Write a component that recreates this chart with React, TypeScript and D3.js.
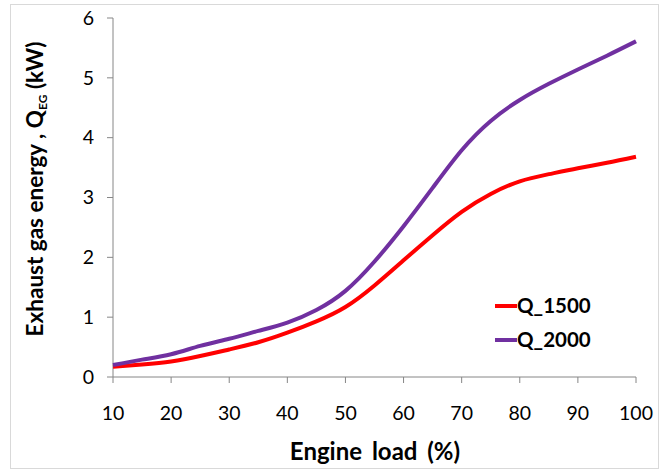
import React from 'react';
import * as d3 from 'd3';

const loads = [10, 15, 20, 25, 30, 35, 40, 45, 50, 55, 60, 65, 70, 75, 80, 85, 90, 95, 100];
const q1500 = [0.17, 0.21, 0.26, 0.35, 0.46, 0.58, 0.74, 0.93, 1.17, 1.53, 1.95, 2.37, 2.76, 3.06, 3.27, 3.39, 3.49, 3.58, 3.68];
const q2000 = [0.2, 0.29, 0.38, 0.52, 0.64, 0.77, 0.91, 1.12, 1.44, 1.93, 2.52, 3.16, 3.79, 4.28, 4.63, 4.9, 5.14, 5.37, 5.61];
const xTicks = [10, 20, 30, 40, 50, 60, 70, 80, 90, 100];
const yTicks = [0, 1, 2, 3, 4, 5, 6];
const seriesNames = ['Q_1500', 'Q_2000'];
const seriesColors = ['#ff0000', '#7030a0'];

const W = 666;
const H = 472;
const font = 'Lato, "Open Sans", sans-serif';

const App = () => {
    const x = d3.scaleLinear().domain([10, 100]).range([113, 636]);
    const y = d3.scaleLinear().domain([0, 6]).range([377, 18]);
    const line = d3.line<number>()
        .x((d, i) => x(loads[i]))
        .y(d => y(d))
        .curve(d3.curveNatural);
    const series = [q1500, q2000];

    return (
        <svg width={W} height={H} style={{ position: 'absolute', left: 0, top: 0, fontFamily: font }}>
            <rect x={0} y={0} width={W} height={H} fill="#fff" />
            <rect x={10.5} y={4.5} width={648} height={464} fill="none" stroke="#d9d9d9" />
            {/* axes */}
            <line x1={x(10)} x2={x(10)} y1={y(6)} y2={y(0)} stroke="#868686" />
            <line x1={x(10)} x2={x(100)} y1={y(0)} y2={y(0)} stroke="#868686" />
            {yTicks.map(t => (
                <g key={'y' + t}>
                    <line x1={x(10) - 6} x2={x(10)} y1={y(t)} y2={y(t)} stroke="#868686" />
                    <text x={94} y={y(t)} dy="0.35em" textAnchor="end" fontSize={19.5} fill="#000">{t}</text>
                </g>
            ))}
            {xTicks.map(t => (
                <g key={'x' + t}>
                    <line x1={x(t)} x2={x(t)} y1={y(0)} y2={y(0) + 6} stroke="#868686" />
                    <text x={x(t)} y={420} textAnchor="middle" fontSize={19.5} fill="#000">{t}</text>
                </g>
            ))}
            {series.map((s, i) => (
                <path key={seriesNames[i]} d={line(s) || ''} fill="none" stroke={seriesColors[i]} strokeWidth={4} />
            ))}
            {/* legend */}
            {seriesNames.map((n, i) => (
                <g key={'lg' + n} transform={`translate(495,${306 + i * 34})`}>
                    <line x1={0} x2={22} y1={0} y2={0} stroke={seriesColors[i]} strokeWidth={4} />
                    <text x={22} y={0} dy="0.36em" fontSize={20.5} fontWeight="bold" fill="#000">{n}</text>
                </g>
            ))}
            <text x={375} y={460} textAnchor="middle" fontSize={24} fontWeight="bold" fill="#000" style={{ wordSpacing: '4px' }}>Engine load (%)</text>
            <text transform={`translate(43,189) rotate(-90)`} textAnchor="middle" fontSize={22.5} fontWeight="bold" fill="#000">
                Exhaust gas energy , Q<tspan fontSize={12} dy="4">EG</tspan><tspan dy="-4"> (kW)</tspan>
            </text>
        </svg>
    );
};

export default App;
